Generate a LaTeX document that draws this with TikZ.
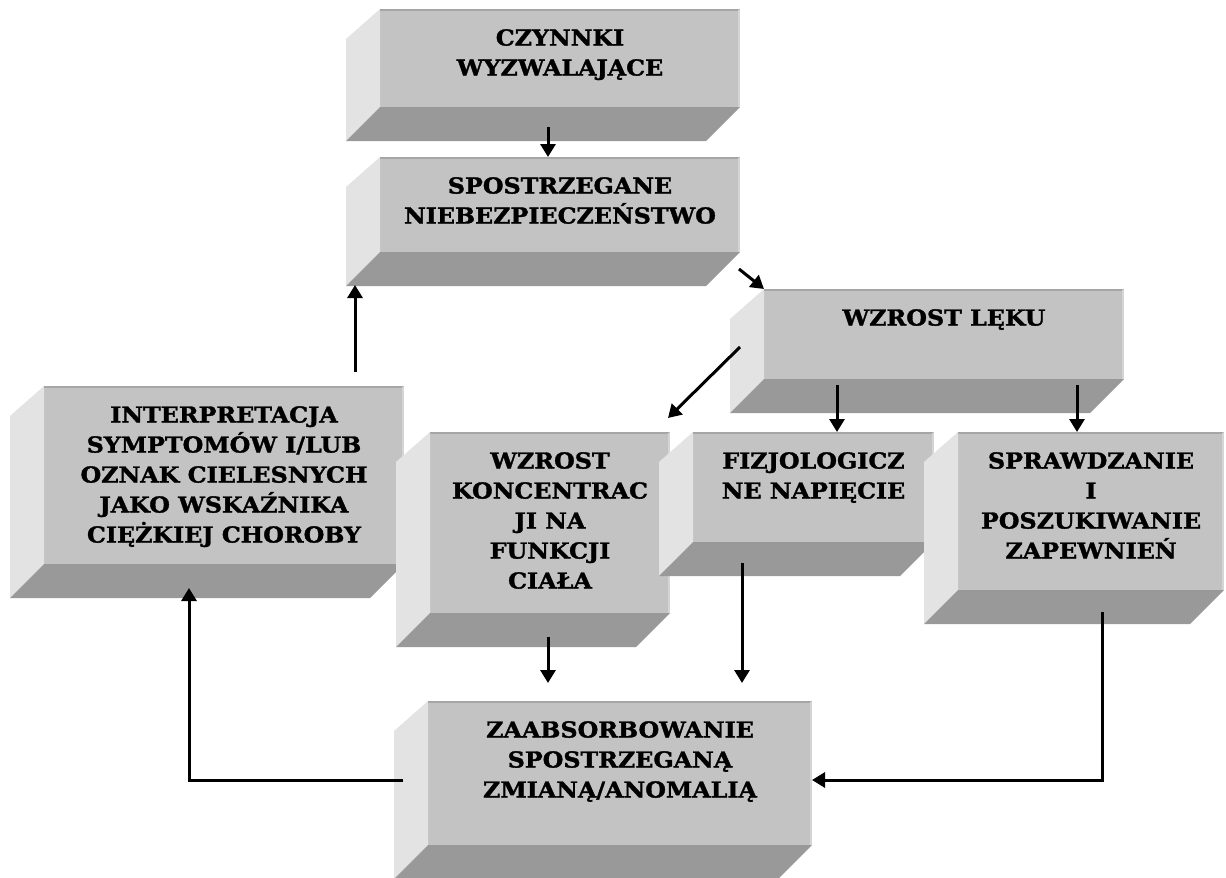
\documentclass[tikz,border=0pt]{standalone}
\usepackage{fontspec}
\setmainfont[FakeStretch=1.08, BoldFeatures={FakeBold=1.5}]{DejaVu Serif}
\usetikzlibrary{arrows.meta}

\definecolor{licoszary}{RGB}{195,195,195}
\definecolor{bokszary}{RGB}{227,227,227}
\definecolor{spodszary}{RGB}{153,153,153}

\tikzset{
    lico/.style={fill=licoszary, inner sep=0pt, outer sep=0pt},
    bok/.style={fill=bokszary},
    spod/.style={fill=spodszary},
    napis/.style={align=center, inner sep=0pt, font=\bfseries\fontsize{22}{30}\selectfont},
    strz/.style={line width=3pt, -{Triangle[length=13pt,width=15pt]}}
}

% bryla: nazwa, x1, y1, x2, y2, tekst
\newcommand{\bryla}[6]{%
    \node[lico, minimum width=#4-#2, minimum height=#5-#3, anchor=north west] (#1) at (#2,#3) {};
    \fill[bok] (#1.north west) -- (#1.south west) -- ++(-34,34) -- ([shift={(-34,30)}]#1.north west) -- cycle;
    \fill[spod] (#1.south west) -- (#1.south east) -- ++(-34,34) -- ([shift={(-34,34)}]#1.south west) -- cycle;
    \draw[licoszary!85!black, line width=1.5pt] ([shift={(0,1)}]#1.north west) -- ([shift={(-1,1)}]#1.north east);
    \draw[licoszary!70!white, line width=1.5pt] ([shift={(-1,1)}]#1.north east) -- ([shift={(-1,0)}]#1.south east);
    \node[napis, anchor=north] (#1-t) at ([shift={(0,20)}]#1.north) {#6};
}

\begin{document}
\begin{tikzpicture}[x=1pt, y=-1pt]
    \useasboundingbox (0,0) rectangle (1226,878);

    \bryla{czynniki}{380}{9}{740}{107}{CZYNNKI\\WYZWALAJĄCE}
    \bryla{niebezp}{380}{157}{740}{252}{SPOSTRZEGANE\\NIEBEZPIECZEŃSTWO}
    \bryla{lek}{764}{289}{1124}{379}{WZROST LĘKU}
    \bryla{interp}{44}{386}{404}{564}{INTERPRETACJA\\SYMPTOMÓW I/LUB\\OZNAK CIELESNYCH\\JAKO WSKAŹNIKA\\CIĘŻKIEJ CHOROBY}
    \bryla{koncentr}{430}{432}{670}{613}{WZROST\\KONCENTRAC\\JI NA\\FUNKCJI\\CIAŁA}
    \bryla{fizjo}{693}{432}{934}{542}{FIZJOLOGICZ\\NE NAPIĘCIE}
    \bryla{sprawdz}{958}{432}{1224}{590}{SPRAWDZANIE\\I\\POSZUKIWANIE\\ZAPEWNIEŃ}
    \bryla{zaabs}{428}{701}{812}{845}{ZAABSORBOWANIE\\SPOSTRZEGANĄ\\ZMIANĄ/ANOMALIĄ}

    % strzalki
    \draw[strz] ([shift={(-12,20)}]czynniki.south) -- ([shift={(-12,0)}]niebezp.north);
    \draw[strz] ([shift={(-1,17)}]niebezp.south east) -- (lek.north west);
    \draw[strz] ([shift={(-24,13)}]lek.west) -- ([shift={(-2,-14)}]koncentr.north east);
    \draw[strz] ([shift={(-107,6)}]lek.south) -- ([shift={(23.5,0)}]fizjo.north);
    \draw[strz] ([shift={(133,6)}]lek.south) -- ([shift={(-14,0)}]sprawdz.north);
    \draw[strz] ([shift={(-2,24)}]koncentr.south) -- ([shift={(-72,-18)}]zaabs.north);
    \draw[strz] ([shift={(-71.5,21)}]fizjo.south) -- ([shift={(122,-18)}]zaabs.north);
    \draw[strz] ([shift={(11,22)}]sprawdz.south) |- ([shift={(0,7)}]zaabs.east);
    \draw[strz] ([shift={(-25,7)}]zaabs.west) -| ([shift={(-35,24)}]interp.south);
    \draw[strz] ([shift={(131,-14)}]interp.north) -- ([shift={(-25,33)}]niebezp.south west);
\end{tikzpicture}
\end{document}
